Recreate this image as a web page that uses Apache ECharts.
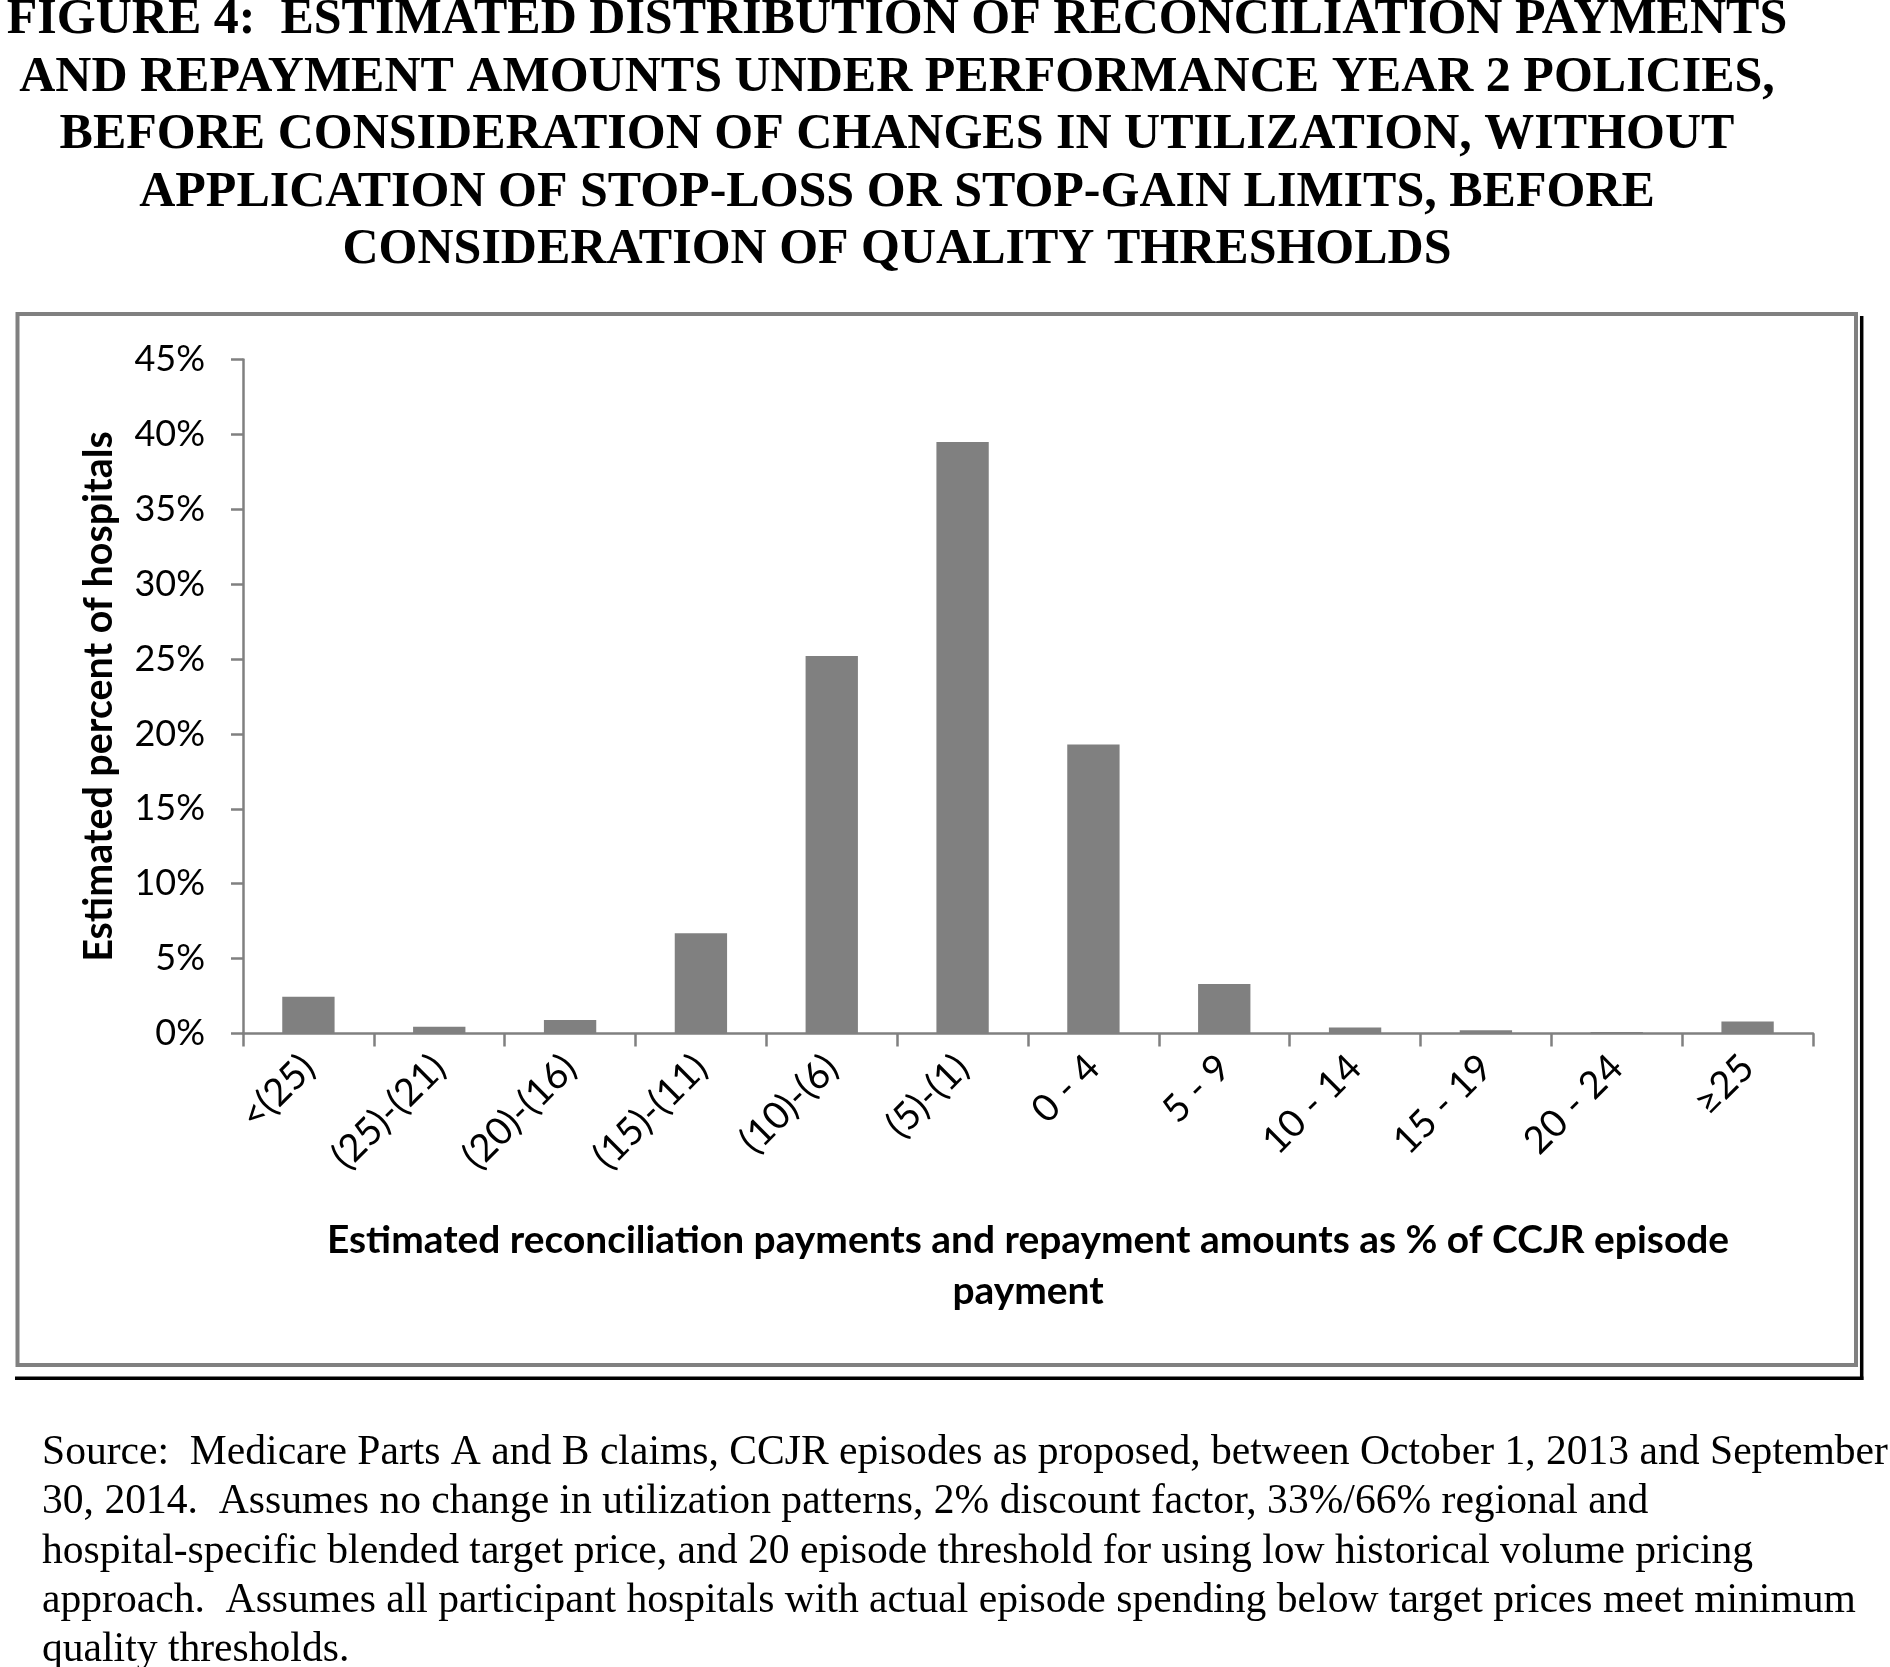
<!DOCTYPE html>
<html>
<head>
<meta charset="utf-8">
<script src="https://cdn.jsdelivr.net/npm/echarts@6/dist/echarts.min.js"></script>
<style>
html, body { margin: 0; padding: 0; background: #ffffff; }
#chart { width: 1890px; height: 1667px; }
</style>
</head>
<body>
<div id="chart"></div>
<script>
// ---- data ----
var categories = ['<(25)', '(25)-(21)', '(20)-(16)', '(15)-(11)', '(10)-(6)', '(5)-(1)', '0 - 4', '5 - 9', '10 - 14', '15 - 19', '20 - 24', '\u226525'];
var percentHospitals = [2.45, 0.45, 0.9, 6.7, 25.2, 39.5, 19.3, 3.3, 0.4, 0.22, 0.1, 0.8];
var yTicks = { min: 0, max: 45, interval: 5 };

var titleLines = [
  'FIGURE 4:  ESTIMATED DISTRIBUTION OF RECONCILIATION PAYMENTS',
  'AND REPAYMENT AMOUNTS UNDER PERFORMANCE YEAR 2 POLICIES,',
  'BEFORE CONSIDERATION OF CHANGES IN UTILIZATION, WITHOUT',
  'APPLICATION OF STOP-LOSS OR STOP-GAIN LIMITS, BEFORE',
  'CONSIDERATION OF QUALITY THRESHOLDS'
];
var sourceLines = [
  'Source:  Medicare Parts A and B claims, CCJR episodes as proposed, between October 1, 2013 and September',
  '30, 2014.  Assumes no change in utilization patterns, 2% discount factor, 33%/66% regional and',
  'hospital-specific blended target price, and 20 episode threshold for using low historical volume pricing',
  'approach.  Assumes all participant hospitals with actual episode spending below target prices meet minimum',
  'quality thresholds.'
];
var yAxisName = 'Estimated percent of hospitals';
var xAxisName = 'Estimated reconciliation payments and repayment amounts as % of CCJR episode\npayment';

// ---- chart ----
var chart = echarts.init(document.getElementById('chart'));
var axisGray = '#808080';
var sans = 'Lato, "Open Sans", sans-serif';

chart.setOption({
  backgroundColor: '#ffffff',
  animation: false,
  title: [
    {
      text: titleLines.join('\n'),
      left: 897, top: -8.5, padding: 0,
      textAlign: 'center',
      textStyle: { fontFamily: '"Liberation Serif", "Times New Roman", serif', fontWeight: 'bold', fontSize: 50, lineHeight: 57.5, color: '#000' }
    },
    {
      text: sourceLines.join('\n'),
      left: 42, top: 1428.5, padding: 0,
      textStyle: { fontFamily: '"Liberation Serif", "Times New Roman", serif', fontWeight: 'normal', fontSize: 41.6, lineHeight: 49.3, color: '#000' }
    }
  ],
  graphic: [
    { type: 'rect', shape: { x: 17.5, y: 314, width: 1838.5, height: 1051 }, style: { fill: null, stroke: '#808080', lineWidth: 4 }, silent: true },
    { type: 'line', shape: { x1: 1861.7, y1: 316, x2: 1861.7, y2: 1380 }, style: { stroke: '#000', lineWidth: 3.5 }, silent: true },
    { type: 'line', shape: { x1: 15, y1: 1378.3, x2: 1863.4, y2: 1378.3 }, style: { stroke: '#000', lineWidth: 3.5 }, silent: true }
  ],
  grid: { left: 243, right: 77, top: 359.5, height: 674, containLabel: false },
  xAxis: {
    type: 'category',
    data: categories,
    boundaryGap: true,
    axisLine: { show: true, lineStyle: { color: axisGray, width: 2.5 } },
    axisTick: { show: true, length: 13, inside: false, lineStyle: { color: axisGray, width: 2.5 } },
    axisLabel: { interval: 0, rotate: 45, margin: 28, fontFamily: sans, fontSize: 38, color: '#000' },
    name: xAxisName,
    nameLocation: 'middle',
    nameGap: 182,
    nameTextStyle: { fontFamily: sans, fontWeight: 'bold', fontSize: 38.9, lineHeight: 50.5, color: '#000', align: 'center' }
  },
  yAxis: {
    type: 'value',
    min: yTicks.min, max: yTicks.max, interval: yTicks.interval,
    splitLine: { show: false },
    axisLine: { show: true, lineStyle: { color: axisGray, width: 2.5 } },
    axisTick: { show: true, length: 12, inside: false, lineStyle: { color: axisGray, width: 2.5 } },
    axisLabel: { margin: 38, fontFamily: sans, fontSize: 36, color: '#000', formatter: '{value}%' },
    name: yAxisName,
    nameLocation: 'middle',
    nameRotate: 90,
    nameGap: 124,
    nameTextStyle: { fontFamily: sans, fontWeight: 'bold', fontSize: 39.4, color: '#000' }
  },
  series: [{
    type: 'bar',
    data: percentHospitals,
    barWidth: '40%',
    itemStyle: { color: '#808080' },
    silent: true
  }]
});
</script>
</body>
</html>
